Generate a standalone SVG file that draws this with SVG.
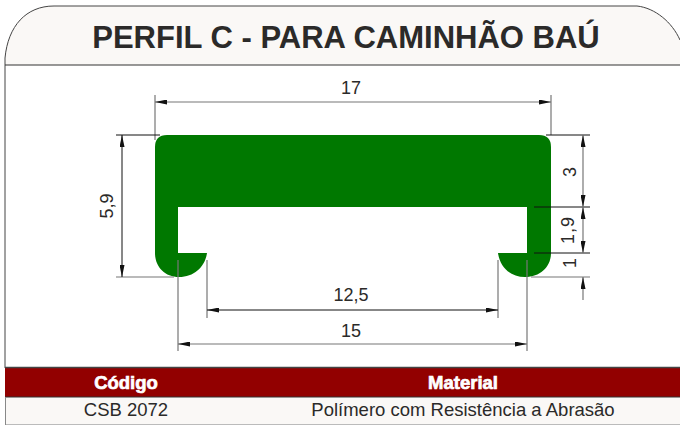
<svg xmlns="http://www.w3.org/2000/svg" width="680" height="425" viewBox="0 0 680 425">
<style>
text{font-family:"Liberation Sans",Arial,sans-serif;fill:#2b2a29}
.d{font-size:18px;text-anchor:middle}
.g{stroke:#777;stroke-width:1.2;fill:none}
.k{stroke:#111;stroke-width:1;fill:none}
.h{font-size:18.500px;font-weight:bold;fill:#fff;stroke:#fff;stroke-width:.7;text-anchor:middle}
.c{font-size:18.500px;text-anchor:middle}
</style>
<defs>
<marker id="a" markerWidth="12" markerHeight="5" refX="12" refY="2.500" orient="auto-start-reverse" markerUnits="userSpaceOnUse"><path d="M0 0L12 2.500L0 5z" fill="#111"/></marker>
</defs>
<rect width="680" height="425" fill="#fff"/>
<g id="header">
<path d="M5 65V58C8 26 26 6 54 6H637C655 8 672 22 680 40V65Z" fill="#faf8f6"/>
<path d="M5 368V58C8 26 26 6 54 6H637C655 8 672 22 680 40" fill="none" stroke="#444" stroke-width="1"/>
<line x1="5" y1="65" x2="680" y2="65" stroke="#333" stroke-width="1.2"/>
<text x="346" y="48" font-size="31" font-weight="bold" text-anchor="middle">PERFIL C - PARA CAMINHÃO BAÚ</text>
</g>
<g id="profile">
<path d="M167 135H539Q551 135 551 147V253C551 267 540 277 525 277C510 277 500 267 498 253H527V207H178V253H207C205 267 194 277 179 277C165 277 155 267 155 253V147Q155 135 167 135Z" fill="#007800"/>
</g>
<g id="connectors">
<path class="g" d="M155 95V140M551 95V135M116 277H174M178 260V351M207 260V318M498 260V318M527 260V351M531 277H590"/>
<path class="k" d="M116 135H160M546 135H590M534 207H590M534 253H590"/>
<line class="g" x1="155" y1="102" x2="551" y2="102" marker-start="url(#a)" marker-end="url(#a)"/>
<line class="k" x1="122" y1="135" x2="122" y2="277" marker-start="url(#a)" marker-end="url(#a)"/>
<line class="k" x1="207" y1="310" x2="498" y2="310" marker-start="url(#a)" marker-end="url(#a)"/>
<line class="g" x1="178" y1="344" x2="527" y2="344" marker-start="url(#a)" marker-end="url(#a)"/>
<line class="g" x1="583" y1="135" x2="583" y2="207" marker-start="url(#a)" marker-end="url(#a)"/>
<line class="g" x1="583" y1="207" x2="583" y2="253" marker-start="url(#a)" marker-end="url(#a)"/>
<line class="g" x1="583" y1="300" x2="583" y2="277" marker-end="url(#a)"/>
</g>
<g id="dimension-labels">
<text class="d" x="351" y="94">17</text>
<text class="d" x="351" y="301">12,5</text>
<text class="d" x="351" y="337">15</text>
<text class="d" transform="translate(113 206) rotate(-90)">5,9</text>
<text class="d" transform="translate(576 172) rotate(-90)">3</text>
<text class="d" letter-spacing="1" transform="translate(574 230) rotate(-90)">1,9</text>
<text class="d" transform="translate(576 263) rotate(-90)">1</text>
</g>
<g id="table">
<rect x="5" y="368" width="675" height="29" fill="#920000"/>
<rect x="5" y="397" width="675" height="27" fill="#faf8f6"/>
<path d="M5 367.500H680" stroke="#444" stroke-width="1.500"/>
<path d="M5 397H680" stroke="#333" stroke-width="1"/>
<path d="M5 424.500H680" stroke="#bbb" stroke-width="1"/>
<path d="M5.500 397V425" stroke="#888" stroke-width="1"/>
<text class="h" x="126" y="389">Código</text>
<text class="h" x="463" y="389">Material</text>
<text class="c" x="126" y="416">CSB 2072</text>
<text class="c" x="463" y="416">Polímero com Resistência a Abrasão</text>
</g>
</svg>
